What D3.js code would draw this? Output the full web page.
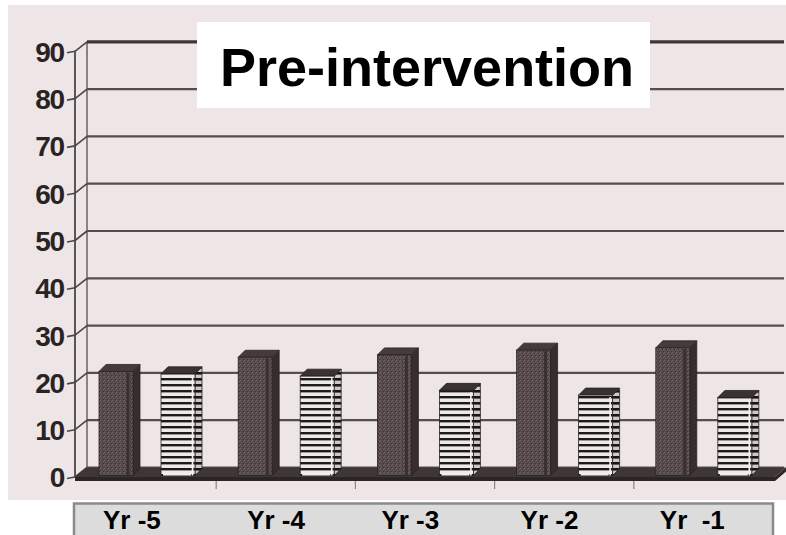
<!DOCTYPE html>
<html>
<head>
<meta charset="utf-8">
<script src="https://cdn.jsdelivr.net/npm/d3@7"></script>
<style>
  html, body { margin: 0; padding: 0; background: #ffffff; }
  svg { display: block; }
  text { font-family: "Liberation Sans", Arial, sans-serif; font-weight: bold; }
</style>
</head>
<body>
<svg id="chart" width="786" height="535"></svg>
<script>
// ---- data ----
const categories = ["Yr -5", "Yr -4", "Yr -3", "Yr -2", "Yr  -1"];
const seriesKeys = ["solid", "hatched"];
const solidValues = [22, 25, 25.5, 26.5, 27];
const hatchedValues = [21.5, 21, 18, 17, 16.5];
const yTickValues = [0, 10, 20, 30, 40, 50, 60, 70, 80, 90];
const titleText = "Pre-intervention";

const rows = categories.map((c, i) => ({ cat: c, solid: solidValues[i], hatched: hatchedValues[i] }));

// ---- layout ----
const W = 786, H = 535;
const wallDX = 12, wallDY = 9.5;   // depth of the 3D box (front -> back wall)
const barDX = 7, barDY = 7;        // depth of each column
const barLift = 1.5;               // column front face sits slightly behind the front edge

const svg = d3.select("#chart");

const y = d3.scaleLinear().domain([0, 90]).range([477, 51.3]);
const x0 = d3.scaleBand().domain(categories).range([77, 773]);
const x1 = d3.scaleBand().domain(seriesKeys).range([22, 118]).paddingInner(0.452);

// ---- patterns ----
const defs = svg.append("defs");

const stripes = defs.append("pattern").attr("id", "stripes")
  .attr("patternUnits", "userSpaceOnUse").attr("width", 6).attr("height", 6);
stripes.append("rect").attr("width", 6).attr("height", 6).attr("fill", "#efeaea");
stripes.append("rect").attr("y", 0).attr("width", 6).attr("height", 2.4).attr("fill", "#1f1a1a");

const stripesSide = defs.append("pattern").attr("id", "stripesSide")
  .attr("patternUnits", "userSpaceOnUse").attr("width", 6).attr("height", 6);
stripesSide.append("rect").attr("width", 6).attr("height", 6).attr("fill", "#cfc8c8");
stripesSide.append("rect").attr("y", 0).attr("width", 6).attr("height", 2.6).attr("fill", "#1a1515");

const stipple = defs.append("pattern").attr("id", "stipple")
  .attr("patternUnits", "userSpaceOnUse").attr("width", 4).attr("height", 4);
stipple.append("rect").attr("width", 4).attr("height", 4).attr("fill", "#564a4b");
[[0, 0, "#716566"], [2, 1, "#3b3131"], [1, 2, "#675b5c"], [3, 3, "#403636"], [3, 1, "#766a6b"]]
  .forEach(([px, py, c]) => stipple.append("rect").attr("x", px).attr("y", py)
    .attr("width", 1).attr("height", 1).attr("fill", c));

// ---- paper background ----
svg.append("rect").attr("x", 8).attr("y", 5).attr("width", W - 8).attr("height", 495)
  .attr("fill", "#ede5e6");

// ---- walls and gridlines ----
const xFront = 75, xBack = xFront + wallDX, xRight = 784;
const walls = svg.append("g").attr("stroke-linecap", "butt");

walls.append("line").attr("x1", xFront).attr("x2", xFront)
  .attr("y1", y(90)).attr("y2", y(0)).attr("stroke", "#4d4545").attr("stroke-width", 1.8);
walls.append("line").attr("x1", xBack).attr("x2", xBack)
  .attr("y1", y(90) - wallDY).attr("y2", y(0) - wallDY).attr("stroke", "#6a6262").attr("stroke-width", 1.5);

walls.selectAll(".grid").data(yTickValues).join("line")
  .attr("class", "grid")
  .attr("x1", xBack).attr("x2", xRight)
  .attr("y1", d => y(d) - wallDY).attr("y2", d => y(d) - wallDY)
  .attr("stroke", d => d === 90 ? "#3e3737" : "#564e4e")
  .attr("stroke-width", d => d === 90 ? 3.2 : 2.2);

walls.selectAll(".side").data(yTickValues).join("line")
  .attr("class", "side")
  .attr("x1", xFront).attr("x2", xBack)
  .attr("y1", d => y(d)).attr("y2", d => y(d) - wallDY)
  .attr("stroke", "#4d4545").attr("stroke-width", 1.6);

walls.selectAll(".tick").data(yTickValues).join("line")
  .attr("class", "tick")
  .attr("x1", 67).attr("x2", xFront)
  .attr("y1", d => y(d) + 1.5).attr("y2", d => y(d))
  .attr("stroke", "#4d4545").attr("stroke-width", 1.6);

// y tick labels via axis generator
const yAxis = svg.append("g")
  .attr("transform", "translate(64,1)")
  .call(d3.axisLeft(y).tickValues(yTickValues).tickSize(0).tickPadding(0));
yAxis.select(".domain").remove();
yAxis.selectAll("text")
  .attr("font-size", 28).attr("font-family", "'Liberation Sans', Arial, sans-serif")
  .attr("font-weight", "bold").attr("fill", "#2a2323").attr("letter-spacing", -1.2);

// ---- floor ----
const yBase = y(0);
const floor = svg.append("g");
floor.append("polygon")
  .attr("points", [[xFront, yBase], [xBack, yBase - wallDY], [xRight + 2, yBase - wallDY], [775, yBase]].join(" "))
  .attr("fill", "#3f3636");
floor.append("rect").attr("x", xFront).attr("y", yBase).attr("width", 775 - xFront).attr("height", 4)
  .attr("fill", "#2c2525");
floor.append("polygon")
  .attr("points", [[775, yBase], [xRight + 2, yBase - wallDY], [xRight + 2, yBase - wallDY + 4], [775, yBase + 4]].join(" "))
  .attr("fill", "#2c2525");

// category ticks under the floor
svg.selectAll(".cattick").data(categories.slice(1)).join("line")
  .attr("class", "cattick")
  .attr("x1", d => x0(d)).attr("x2", d => x0(d))
  .attr("y1", yBase + 4).attr("y2", yBase + 12)
  .attr("stroke", "#8c8383").attr("stroke-width", 1.2);

// ---- title box ----
svg.append("rect").attr("x", 197).attr("y", 22).attr("width", 453).attr("height", 86)
  .attr("fill", "#ffffff");
svg.append("text").attr("x", 220).attr("y", 86)
  .attr("font-size", 54).attr("fill", "#000").text(titleText);

// ---- columns ----
function drawColumn(g, xl, w, v, kind) {
  const yb = y(0) - barLift, yt = y(v) - barLift;
  const front = kind === "solid" ? "url(#stipple)" : "url(#stripes)";
  const side = kind === "solid" ? "#372d2d" : "url(#stripesSide)";
  const top = kind === "solid" ? "#463b3b" : "#3a3131";
  // side face
  g.append("polygon")
    .attr("points", [[xl + w, yt], [xl + w + barDX, yt - barDY], [xl + w + barDX, yb - barDY], [xl + w, yb]].join(" "))
    .attr("fill", side).attr("stroke", "#2a2222").attr("stroke-width", 0.8);
  // top face
  g.append("polygon")
    .attr("points", [[xl, yt], [xl + barDX, yt - barDY], [xl + w + barDX, yt - barDY], [xl + w, yt]].join(" "))
    .attr("fill", top).attr("stroke", "#2a2222").attr("stroke-width", 0.8);
  // front face
  g.append("rect").attr("x", xl).attr("y", yt).attr("width", w).attr("height", yb - yt)
    .attr("fill", front).attr("stroke", "#2a2222").attr("stroke-width", 0.8);
  if (kind === "hatched") {
    g.append("line").attr("x1", xl + w - 2.5).attr("x2", xl + w - 2.5)
      .attr("y1", yt + 2).attr("y2", yb)
      .attr("stroke", "#f4f0f0").attr("stroke-width", 1.6);
    g.append("line").attr("x1", xl + 2).attr("x2", xl + w - 4)
      .attr("y1", yb - 1).attr("y2", yb - 1)
      .attr("stroke", "#f4f0f0").attr("stroke-width", 2);
  } else {
    g.append("line").attr("x1", xl + w - 5).attr("x2", xl + w - 5)
      .attr("y1", yt + 1).attr("y2", yb)
      .attr("stroke", "#3a3030").attr("stroke-width", 3);
  }
}

const bars = svg.append("g");
rows.forEach(r => {
  seriesKeys.forEach(k => {
    drawColumn(bars, x0(r.cat) + x1(k), x1.bandwidth(), r[k], k);
  });
});

// ---- category label strip ----
svg.append("rect").attr("x", 74).attr("y", 503.5).attr("width", 699).attr("height", 40)
  .attr("fill", "#dcdcdc").attr("stroke", "#8a8a8a").attr("stroke-width", 2.5);

svg.selectAll(".catlabel").data(categories).join("text")
  .attr("class", "catlabel")
  .attr("x", (d, i) => x0(d) + 26 + (i === 1 ? 5 : 0)).attr("y", 528.5)
  .attr("font-size", 26).attr("fill", "#000")
  .attr("xml:space", "preserve").style("white-space", "pre")
  .text(d => d);
</script>
</body>
</html>
